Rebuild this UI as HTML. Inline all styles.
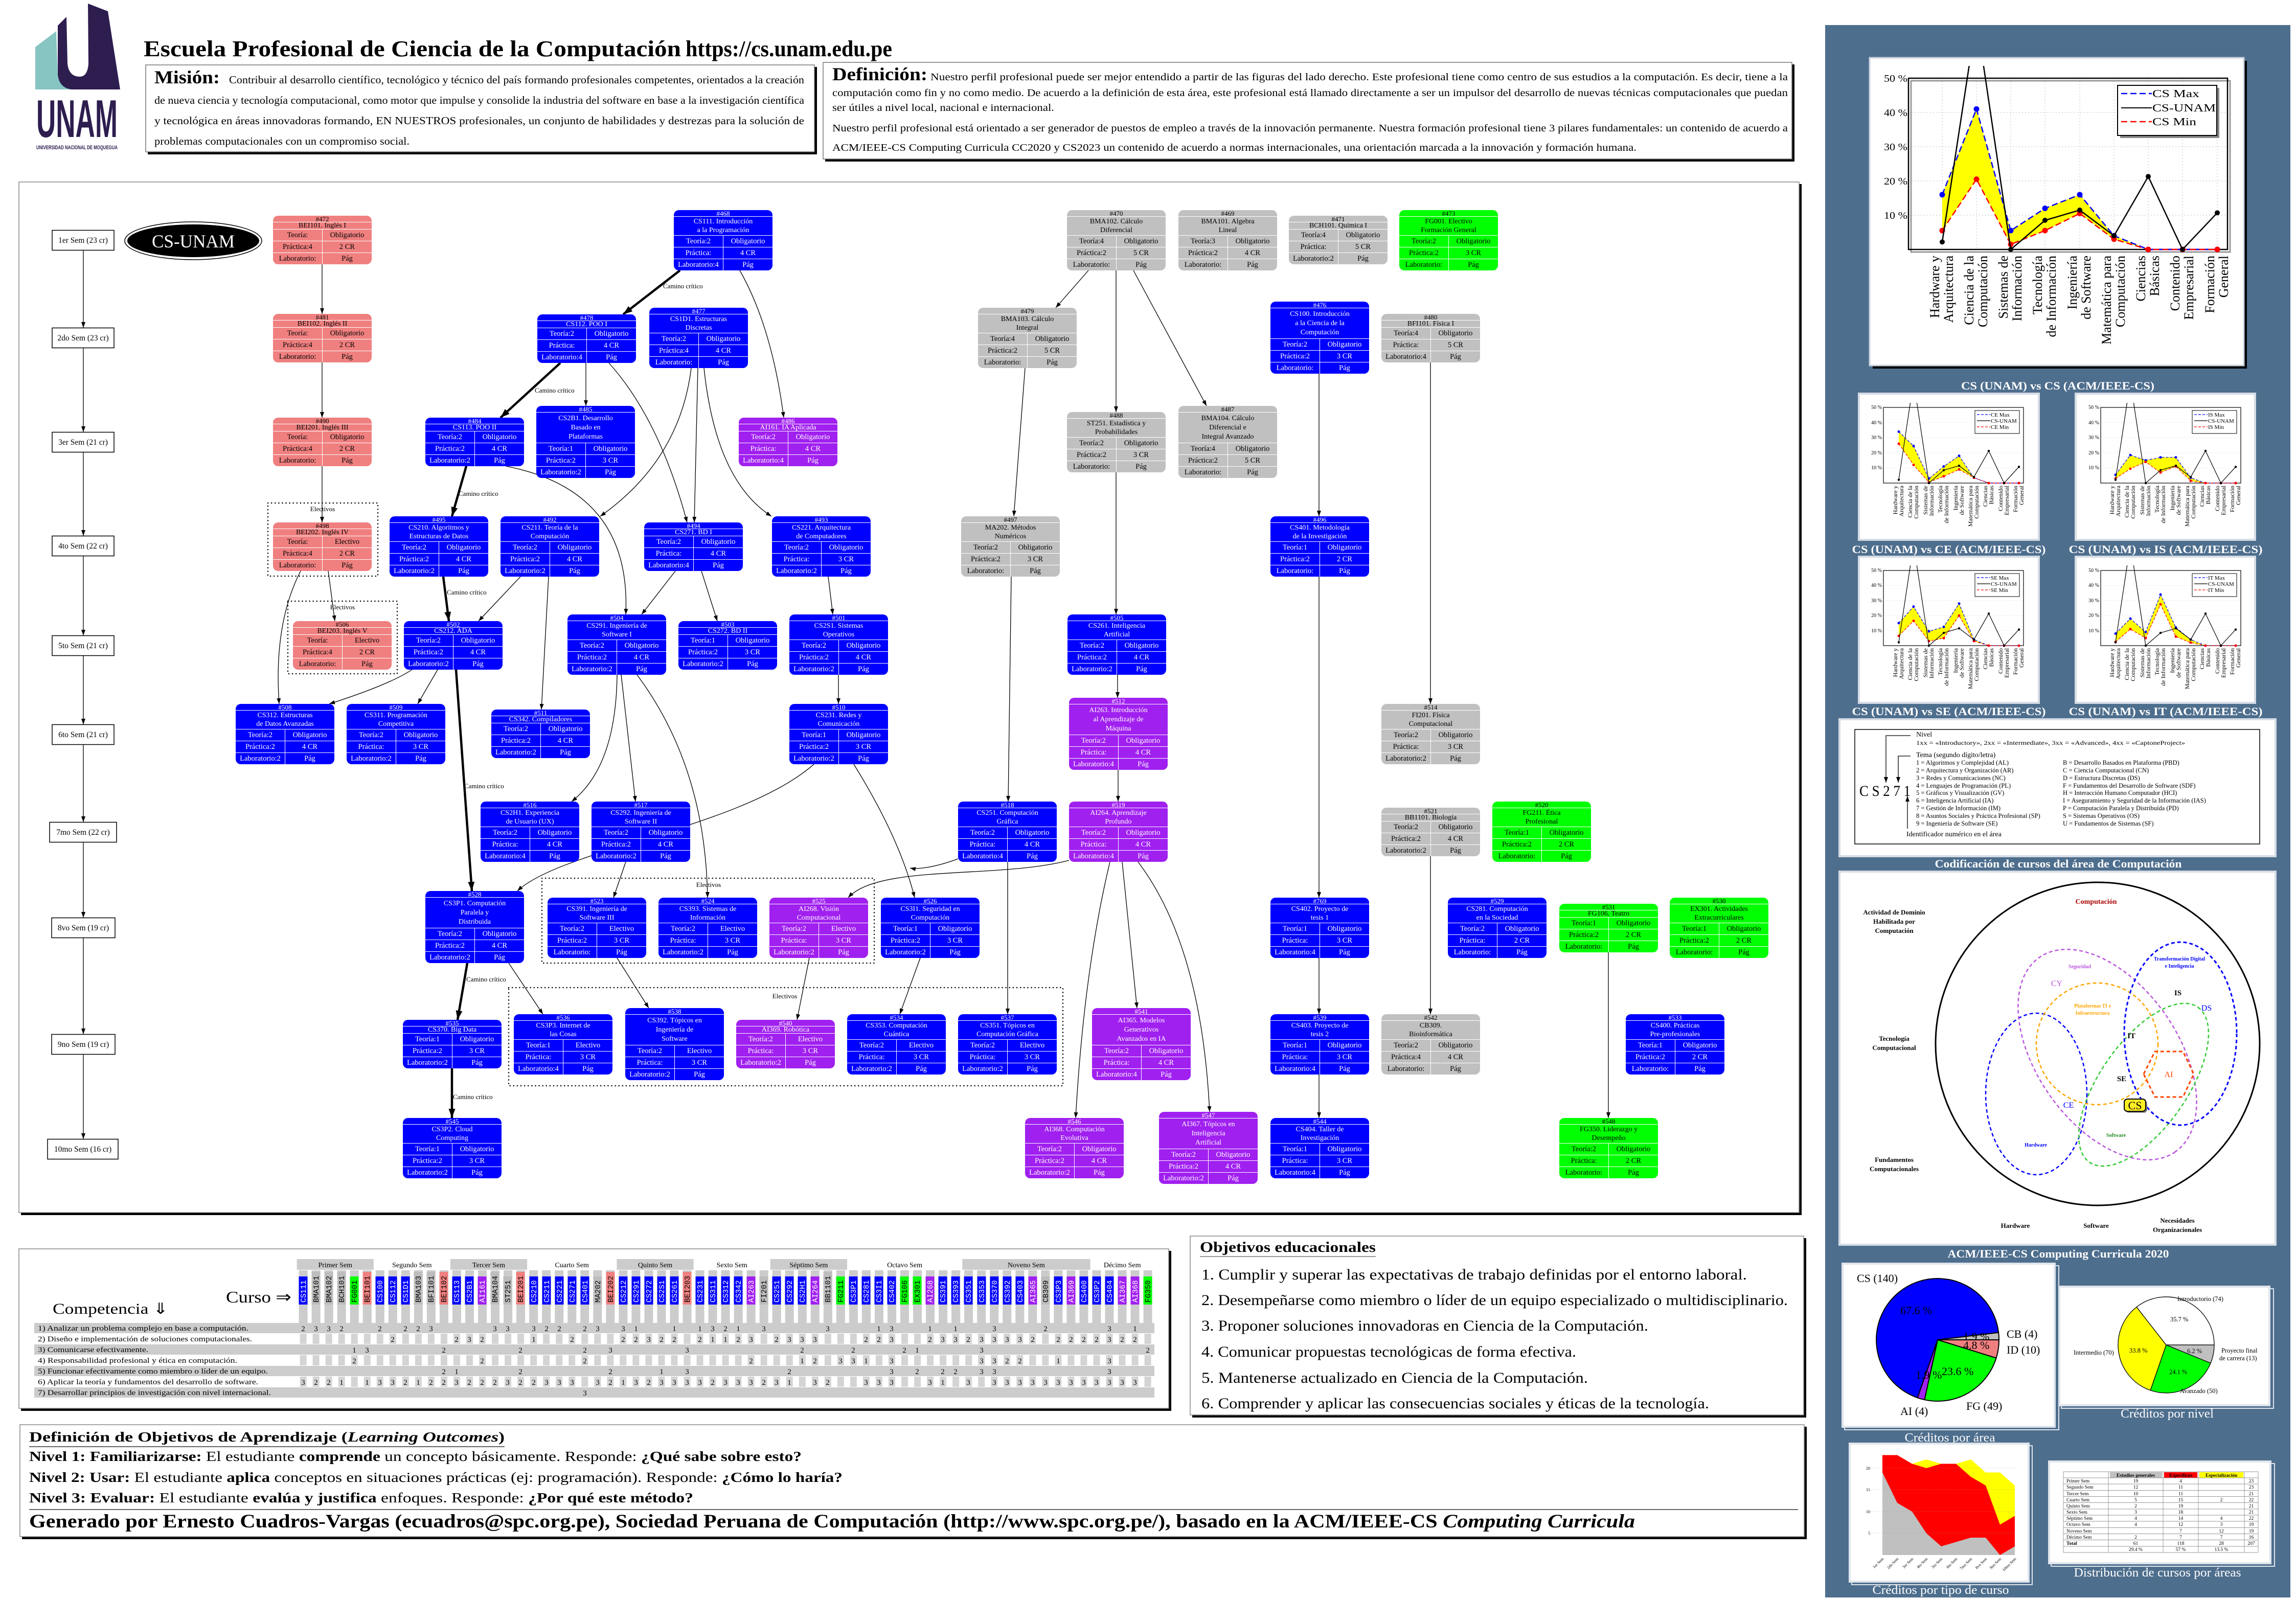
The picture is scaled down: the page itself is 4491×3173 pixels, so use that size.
<!DOCTYPE html>
<html><head><meta charset="utf-8">
<style>
html,body{margin:0;padding:0;background:#fff;}
body{width:4491px;height:3173px;position:relative;overflow:hidden;font-family:"Liberation Serif",serif;}
svg.main{position:absolute;left:0;top:0;}
.c{position:absolute;width:193px;border-radius:10px;overflow:hidden;background:#0000ff;color:#fff;text-align:center;font-family:"Liberation Serif",serif;}
.c.k{background:#f08080;color:#000}
.c.g{background:#c0c0c0;color:#000}
.c.v{background:#00ff00;color:#000}
.c.p{background:#a020f0;color:#fff}
.c .i{height:12px;line-height:13px;font-size:13px;border-bottom:1px solid #fff;}
.c .t{display:flex;align-items:center;justify-content:center;line-height:16px;font-size:14px;overflow:hidden}
.c .r{display:flex;height:22px;border-top:1px solid #fff;line-height:22px;font-size:14.5px}
.c .r span{flex:1;white-space:nowrap}
.c .r span+span{border-left:1px solid #fff}
.h1{height:95px}.h1 .t{height:13px}
.h2{height:118px}.h2 .t{height:36px;line-height:17px}
.h3{height:141px}.h3 .t{height:59px;line-height:18px}
</style></head><body>
<svg class="main" width="4491" height="3173" viewBox="0 0 4491 3173" xmlns="http://www.w3.org/2000/svg" font-family="Liberation Serif, serif">
<defs>
<marker id="ar" viewBox="0 0 10 10" refX="10" refY="5" markerWidth="11" markerHeight="8" markerUnits="userSpaceOnUse" orient="auto" preserveAspectRatio="none"><path d="M0,0L10,5L0,10z" fill="#000"/></marker>
<marker id="ac" viewBox="0 0 10 10" refX="10" refY="5" markerWidth="18" markerHeight="13" markerUnits="userSpaceOnUse" orient="auto" preserveAspectRatio="none"><path d="M0,0L10,5L0,10z" fill="#000"/></marker>
<marker id="db" viewBox="0 0 10 10" refX="5" refY="5" markerWidth="11" markerHeight="11" markerUnits="userSpaceOnUse"><circle cx="5" cy="5" r="5" fill="#0000ff"/></marker>
<marker id="dr" viewBox="0 0 10 10" refX="5" refY="5" markerWidth="11" markerHeight="11" markerUnits="userSpaceOnUse"><circle cx="5" cy="5" r="5" fill="#ff0000"/></marker>
<marker id="dk" viewBox="0 0 10 10" refX="5" refY="5" markerWidth="10" markerHeight="10" markerUnits="userSpaceOnUse"><circle cx="5" cy="5" r="5" fill="#000"/></marker>
<marker id="sb" viewBox="0 0 10 10" refX="5" refY="5" markerWidth="5" markerHeight="5" markerUnits="userSpaceOnUse"><circle cx="5" cy="5" r="5" fill="#0000ff"/></marker>
<marker id="sr" viewBox="0 0 10 10" refX="5" refY="5" markerWidth="5" markerHeight="5" markerUnits="userSpaceOnUse"><circle cx="5" cy="5" r="5" fill="#ff0000"/></marker>
<marker id="sk" viewBox="0 0 10 10" refX="5" refY="5" markerWidth="4.5" markerHeight="4.5" markerUnits="userSpaceOnUse"><circle cx="5" cy="5" r="5" fill="#000"/></marker>
<clipPath id="cb"><rect x="3660" y="129" width="730" height="590"/></clipPath>
<clipPath id="c1"><rect x="3640" y="788" width="345" height="265"/></clipPath>
<clipPath id="c2"><rect x="4064" y="788" width="345" height="265"/></clipPath>
<clipPath id="c3"><rect x="3640" y="1106" width="345" height="265"/></clipPath>
<clipPath id="c4"><rect x="4064" y="1106" width="345" height="265"/></clipPath>
<pattern id="cs" patternUnits="userSpaceOnUse" x="580.6" y="0" width="25.03" height="20"><rect x="4" y="0" width="17" height="20" fill="#cccccc"/></pattern>
<pattern id="cw" patternUnits="userSpaceOnUse" x="580.6" y="0" width="25.03" height="20"><rect x="6" y="0" width="13" height="20" fill="#d4d4d4"/></pattern>
</defs>

<!-- LOGO -->
<path d="M69,175 L69,92 L110,61 L113,148 Q118,170 140,175 Z" fill="#86c5c2"/>
<path d="M113,50 L130,33 L132,125 Q135,150 156,150 Q171,150 173,125 L172,7 L211,22 L235,175 L140,175 Q116,172 113,146 Z" fill="#2e1d4f"/>
<text x="71" y="268" font-family="Liberation Sans, sans-serif" font-weight="bold" font-size="104" fill="#2e1d4f" textLength="159" lengthAdjust="spacingAndGlyphs">UNAM</text>
<text x="71" y="292" font-family="Liberation Sans, sans-serif" font-weight="bold" font-size="11" fill="#2e1d4f" textLength="159" lengthAdjust="spacingAndGlyphs">UNIVERSIDAD NACIONAL DE MOQUEGUA</text>

<!-- TITLE -->
<text x="281" y="110" font-size="44" font-weight="bold" textLength="1051" lengthAdjust="spacingAndGlyphs">Escuela Profesional de Ciencia de la Computación</text>
<text x="1341" y="110" font-size="44" font-weight="bold" textLength="404" lengthAdjust="spacingAndGlyphs">https://cs.unam.edu.pe</text>

<!-- MISION -->
<rect x="289" y="131" width="1309" height="171" fill="#000"/>
<rect x="285" y="127" width="1308" height="170" fill="#fff" stroke="#777" stroke-width="1.5"/>
<text x="302" y="163" font-size="36" font-weight="bold" textLength="128" lengthAdjust="spacingAndGlyphs">Misión:</text>
<g font-size="21" lengthAdjust="spacingAndGlyphs">
<text x="448" y="163" textLength="1125" lengthAdjust="spacingAndGlyphs">Contribuir al desarrollo científico, tecnológico y técnico del país formando profesionales competentes, orientados a la creación</text>
<text x="302" y="203" textLength="1271" lengthAdjust="spacingAndGlyphs">de nueva ciencia y tecnología computacional, como motor que impulse y consolide la industria del software en base a la investigación científica</text>
<text x="302" y="243" textLength="1271" lengthAdjust="spacingAndGlyphs">y tecnológica en áreas innovadoras formando, EN NUESTROS profesionales, un conjunto de habilidades y destrezas para la solución de</text>
<text x="302" y="283" textLength="499" lengthAdjust="spacingAndGlyphs">problemas computacionales con un compromiso social.</text>
</g>

<!-- DEFINICION -->
<rect x="1614" y="126" width="1896" height="190" fill="#000"/>
<rect x="1610" y="122" width="1895" height="189" fill="#fff" stroke="#777" stroke-width="1.5"/>
<text x="1628" y="157" font-size="36" font-weight="bold" textLength="186" lengthAdjust="spacingAndGlyphs">Definición:</text>
<g font-size="19.5">
<text x="1820" y="157" textLength="1677" lengthAdjust="spacingAndGlyphs">Nuestro perfil profesional puede ser mejor entendido a partir de las figuras del lado derecho. Este profesional tiene como centro de sus estudios a la computación. Es decir, tiene a la</text>
<text x="1628" y="188" textLength="1869" lengthAdjust="spacingAndGlyphs">computación como fin y no como medio. De acuerdo a la definición de esta área, este profesional está llamado directamente a ser un impulsor del desarrollo de nuevas técnicas computacionales que puedan</text>
<text x="1628" y="217" textLength="434" lengthAdjust="spacingAndGlyphs">ser útiles a nivel local, nacional e internacional.</text>
<text x="1628" y="257" textLength="1869" lengthAdjust="spacingAndGlyphs">Nuestro perfil profesional está orientado a ser generador de puestos de empleo a través de la innovación permanente. Nuestra formación profesional tiene 3 pilares fundamentales: un contenido de acuerdo a</text>
<text x="1628" y="295" textLength="1573" lengthAdjust="spacingAndGlyphs">ACM/IEEE-CS Computing Curricula CC2020 y CS2023 un contenido de acuerdo a normas internacionales, una orientación marcada a la innovación y formación humana.</text>
</g>

<!-- GRAPH FRAME -->
<rect x="41" y="2372" width="3483" height="5" fill="#000"/>
<rect x="3519" y="360" width="5" height="2017" fill="#000"/>
<rect x="37" y="356" width="3482" height="2016" fill="none" stroke="#888" stroke-width="1.5"/>

<!-- Semesters -->
<g fill="#fff" stroke="#000" stroke-width="1.5">
<rect x="102" y="450.5" width="121" height="39"/>
<rect x="102" y="641.5" width="121" height="39"/>
<rect x="102" y="845.5" width="121" height="39"/>
<rect x="102" y="1048.5" width="121" height="39"/>
<rect x="102" y="1243.5" width="121" height="39"/>
<rect x="102" y="1417.5" width="121" height="39"/>
<rect x="97" y="1608.5" width="131" height="39"/>
<rect x="101" y="1795.5" width="124" height="39"/>
<rect x="101" y="2023.5" width="124" height="39"/>
<rect x="93" y="2228.5" width="138" height="39"/>
</g>
<g font-size="15.5" text-anchor="middle">
<text x="162.5" y="475">1er Sem (23 cr)</text>
<text x="162.5" y="666">2do Sem (23 cr)</text>
<text x="162.5" y="870">3er Sem (21 cr)</text>
<text x="162.5" y="1073">4to Sem (22 cr)</text>
<text x="162.5" y="1268">5to Sem (21 cr)</text>
<text x="162.5" y="1442">6to Sem (21 cr)</text>
<text x="162.5" y="1633">7mo Sem (22 cr)</text>
<text x="163" y="1820">8vo Sem (19 cr)</text>
<text x="163" y="2048">9no Sem (19 cr)</text>
<text x="162" y="2253">10mo Sem (16 cr)</text>
</g>

<!-- CS-UNAM -->
<ellipse cx="378" cy="471" rx="134" ry="37" fill="#fff" stroke="#000" stroke-width="1.5"/>
<ellipse cx="378" cy="471" rx="129" ry="32" fill="#000"/>
<text x="378" y="484" font-size="36" fill="#fff" text-anchor="middle" textLength="162" lengthAdjust="spacingAndGlyphs">CS-UNAM</text>

<!-- Electivos boxes -->
<g fill="none" stroke="#000" stroke-width="2.5" stroke-dasharray="0.1,7" stroke-linecap="round">
<rect x="524" y="984" width="215" height="143"/>
<rect x="563" y="1176" width="214" height="142"/>
<rect x="1060" y="1718" width="650" height="166"/>
<rect x="995" y="1932" width="1084" height="192"/>
</g>
<g font-size="13" text-anchor="middle">
<text x="631" y="1000">Electivos</text>
<text x="670" y="1192">Electivos</text>
<text x="1386" y="1735">Electivos</text>
<text x="1535" y="1953">Electivos</text>
</g>

<!-- EDGES -->
<g fill="none" stroke="#000" stroke-width="1.3" marker-end="url(#ar)">
<path d="M163,490V641"/><path d="M163,681V845"/><path d="M163,885V1048"/><path d="M163,1088V1243"/><path d="M163,1283V1417"/><path d="M163,1457V1608"/><path d="M163,1648V1795"/><path d="M163,1835V2023"/><path d="M163,2063V2228"/>
<path d="M630,517V614"/>
<path d="M630,709V817"/>
<path d="M630,912V1022"/>
<path d="M642,1117L655,1215"/>
<path d="M588,1117Q535,1220 546,1377"/>
<path d="M1447,529Q1510,640 1533,817"/>
<path d="M1146,710V794"/>
<path d="M1191,710Q1290,820 1344,1022"/>
<path d="M1365,720L1358,1022"/>
<path d="M1352,720Q1330,900 1174,1010"/>
<path d="M1377,720Q1400,940 1509,1010"/>
<path d="M990,912Q1235,960 1224,1202"/>
<path d="M1018,1128L936,1215"/>
<path d="M1073,1128L1059,1388"/>
<path d="M1321,1117L1255,1202"/>
<path d="M1372,1117L1403,1215"/>
<path d="M1620,1128L1629,1202"/>
<path d="M806,1310Q760,1340 644,1377"/>
<path d="M856,1310L817,1377"/>
<path d="M1207,1320Q1205,1500 1118,1568"/>
<path d="M1215,1320L1243,1568"/>
<path d="M1246,1320Q1380,1500 1384,1756"/>
<path d="M1640,1320V1377"/>
<path d="M1592,1495C1450,1620 1100,1660 1012,1743"/>
<path d="M1670,1495Q1760,1640 1789,1756"/>
<path d="M1224,1686L1200,1756"/>
<path d="M995,1884L1062,1984"/>
<path d="M1207,1874L1269,1972"/>
<path d="M1583,1874L1559,1995"/>
<path d="M2091,1683C1950,1720 1720,1690 1659,1756"/>
<path d="M1874,1680C1820,1700 1790,1700 1780,1698"/>
<path d="M1800,1874L1760,1984"/>
<path d="M2129,529L2065,602"/>
<path d="M2183,529V806"/>
<path d="M2217,529L2360,794"/>
<path d="M2005,720L1983,1010"/>
<path d="M2183,924V1202"/>
<path d="M1978,1128L1972,1568"/>
<path d="M2186,1320V1365"/>
<path d="M2187,1506V1568"/>
<path d="M2580,731V1010"/>
<path d="M2580,1128V1756"/>
<path d="M2580,1874V1984"/>
<path d="M2580,2102V2187"/>
<path d="M2798,709V1377"/>
<path d="M2798,1675V1984"/>
<path d="M3146,1863V2187"/>
<path d="M1971,1686V1984"/>
<path d="M2195,1686L2224,1972"/>
<path d="M2171,1686Q2120,1900 2104,2187"/>
<path d="M2226,1686Q2350,1850 2366,2175"/>
</g>
<g fill="none" stroke="#000" stroke-width="4.5" marker-end="url(#ac)">
<path d="M1330,529L1219,615"/>
<path d="M1096,710L979,817"/>
<path d="M912,912L884,1010"/>
<path d="M867,1128L878,1215"/>
<path d="M892,1310L923,1743"/>
<path d="M914,1884L895,1995"/>
<path d="M884,2090V2187"/>
</g>
<g font-size="13">
<text x="1297" y="564">Camino crítico</text>
<text x="1046" y="768">Camino crítico</text>
<text x="897" y="970">Camino crítico</text>
<text x="874" y="1163">Camino crítico</text>
<text x="908" y="1542">Camino crítico</text>
<text x="912" y="1920">Camino crítico</text>
<text x="886" y="2150">Camino crítico</text>
</g>

<!-- COMPETENCY TABLE -->
<rect x="41" y="2447" width="2250" height="313" fill="#000"/>
<rect x="37" y="2443" width="2249" height="312" fill="#fff" stroke="#888" stroke-width="1.5"/>
<g fill="#cccccc">
<rect x="580.6" y="2463" width="150.2" height="21"/>
<rect x="880.9" y="2463" width="150.2" height="21"/>
<rect x="1206.4" y="2463" width="150.2" height="21"/>
<rect x="1506.8" y="2463" width="150.2" height="21"/>
<rect x="1882.3" y="2463" width="250.3" height="21"/>
</g>
<g font-size="14" text-anchor="middle">
<text x="655.7" y="2479">Primer Sem</text>
<text x="805.8" y="2479">Segundo Sem</text>
<text x="956" y="2479">Tercer Sem</text>
<text x="1118.7" y="2479">Cuarto Sem</text>
<text x="1281.5" y="2479">Quinto Sem</text>
<text x="1431.7" y="2479">Sexto Sem</text>
<text x="1581.9" y="2479">Séptimo Sem</text>
<text x="1769.6" y="2479">Octavo Sem</text>
<text x="2007.4" y="2479">Noveno Sem</text>
<text x="2195.2" y="2479">Décimo Sem</text>
</g>
<rect x="580.6" y="2485" width="1677" height="103" fill="url(#cs)"/>
<g fill="#cccccc">
<rect x="67" y="2588" width="2191" height="20"/>
<rect x="67" y="2630" width="2191" height="20"/>
<rect x="67" y="2672" width="2191" height="20"/>
<rect x="67" y="2714" width="2191" height="20"/>
</g>
<rect x="580.6" y="2609" width="1677" height="20" fill="url(#cw)"/>
<rect x="580.6" y="2651" width="1677" height="20" fill="url(#cw)"/>
<rect x="580.6" y="2693" width="1677" height="20" fill="url(#cw)"/>
<path fill="#0000ff" d="M584.5,2497h17v55h-17zM734.5,2497h17v55h-17zM759.5,2497h17v55h-17zM784.5,2497h17v55h-17zM884.5,2497h17v55h-17zM909.5,2497h17v55h-17zM1035.5,2497h17v55h-17zM1060.5,2497h17v55h-17zM1085.5,2497h17v55h-17zM1110.5,2497h17v55h-17zM1135.5,2497h17v55h-17zM1210.5,2497h17v55h-17zM1235.5,2497h17v55h-17zM1260.5,2497h17v55h-17zM1285.5,2497h17v55h-17zM1310.5,2497h17v55h-17zM1360.5,2497h17v55h-17zM1385.5,2497h17v55h-17zM1410.5,2497h17v55h-17zM1435.5,2497h17v55h-17zM1510.5,2497h17v55h-17zM1535.5,2497h17v55h-17zM1560.5,2497h17v55h-17zM1660.5,2497h17v55h-17zM1685.5,2497h17v55h-17zM1710.5,2497h17v55h-17zM1735.5,2497h17v55h-17zM1835.5,2497h17v55h-17zM1860.5,2497h17v55h-17zM1885.5,2497h17v55h-17zM1911.5,2497h17v55h-17zM1936.5,2497h17v55h-17zM1961.5,2497h17v55h-17zM1986.5,2497h17v55h-17zM2061.5,2497h17v55h-17zM2111.5,2497h17v55h-17zM2136.5,2497h17v55h-17zM2161.5,2497h17v55h-17z"/>
<path fill="#bdbdbd" d="M609.5,2488h17v64h-17zM634.5,2488h17v64h-17zM659.5,2488h17v64h-17zM809.5,2488h17v64h-17zM834.5,2488h17v64h-17zM959.5,2488h17v64h-17zM984.5,2497h17v55h-17zM1160.5,2497h17v55h-17zM1485.5,2497h17v55h-17zM1610.5,2488h17v64h-17zM2036.5,2497h17v55h-17z"/>
<path fill="#00ff00" d="M684.5,2497h17v55h-17zM1635.5,2497h17v55h-17zM1760.5,2497h17v55h-17zM1785.5,2497h17v55h-17zM2236.5,2497h17v55h-17z"/>
<path fill="#f08080" d="M709.5,2488h17v64h-17zM859.5,2488h17v64h-17zM1009.5,2488h17v64h-17zM1185.5,2488h17v64h-17zM1335.5,2488h17v64h-17z"/>
<path fill="#a020f0" d="M934.5,2497h17v55h-17zM1460.5,2497h17v55h-17zM1585.5,2497h17v55h-17zM1810.5,2497h17v55h-17zM2011.5,2497h17v55h-17zM2086.5,2497h17v55h-17zM2186.5,2497h17v55h-17zM2211.5,2497h17v55h-17z"/>
<g font-family="Liberation Mono, monospace" font-size="14.5" fill="#fff">
<text transform="translate(598,2548) rotate(-90)">CS111</text>
<text transform="translate(748,2548) rotate(-90)">CS100</text>
<text transform="translate(773,2548) rotate(-90)">CS112</text>
<text transform="translate(798,2548) rotate(-90)">CS1D1</text>
<text transform="translate(898,2548) rotate(-90)">CS113</text>
<text transform="translate(923,2548) rotate(-90)">CS2B1</text>
<text transform="translate(948,2548) rotate(-90)">AI161</text>
<text transform="translate(1049,2548) rotate(-90)">CS210</text>
<text transform="translate(1074,2548) rotate(-90)">CS211</text>
<text transform="translate(1099,2548) rotate(-90)">CS221</text>
<text transform="translate(1124,2548) rotate(-90)">CS271</text>
<text transform="translate(1149,2548) rotate(-90)">CS401</text>
<text transform="translate(1224,2548) rotate(-90)">CS212</text>
<text transform="translate(1249,2548) rotate(-90)">CS291</text>
<text transform="translate(1274,2548) rotate(-90)">CS272</text>
<text transform="translate(1299,2548) rotate(-90)">CS2S1</text>
<text transform="translate(1324,2548) rotate(-90)">CS261</text>
<text transform="translate(1374,2548) rotate(-90)">CS231</text>
<text transform="translate(1399,2548) rotate(-90)">CS311</text>
<text transform="translate(1424,2548) rotate(-90)">CS312</text>
<text transform="translate(1449,2548) rotate(-90)">CS342</text>
<text transform="translate(1474,2548) rotate(-90)">AI263</text>
<text transform="translate(1524,2548) rotate(-90)">CS251</text>
<text transform="translate(1549,2548) rotate(-90)">CS292</text>
<text transform="translate(1574,2548) rotate(-90)">CS2H1</text>
<text transform="translate(1599,2548) rotate(-90)">AI264</text>
<text transform="translate(1674,2548) rotate(-90)">CS3P1</text>
<text transform="translate(1699,2548) rotate(-90)">CS281</text>
<text transform="translate(1724,2548) rotate(-90)">CS3I1</text>
<text transform="translate(1749,2548) rotate(-90)">CS402</text>
<text transform="translate(1824,2548) rotate(-90)">AI268</text>
<text transform="translate(1849,2548) rotate(-90)">CS391</text>
<text transform="translate(1874,2548) rotate(-90)">CS393</text>
<text transform="translate(1899,2548) rotate(-90)">CS351</text>
<text transform="translate(1925,2548) rotate(-90)">CS353</text>
<text transform="translate(1950,2548) rotate(-90)">CS370</text>
<text transform="translate(1975,2548) rotate(-90)">CS392</text>
<text transform="translate(2000,2548) rotate(-90)">CS403</text>
<text transform="translate(2025,2548) rotate(-90)">AI365</text>
<text transform="translate(2075,2548) rotate(-90)">CS3P3</text>
<text transform="translate(2100,2548) rotate(-90)">AI369</text>
<text transform="translate(2125,2548) rotate(-90)">CS400</text>
<text transform="translate(2150,2548) rotate(-90)">CS3P2</text>
<text transform="translate(2175,2548) rotate(-90)">CS404</text>
<text transform="translate(2200,2548) rotate(-90)">AI367</text>
<text transform="translate(2225,2548) rotate(-90)">AI368</text>
</g>
<g font-family="Liberation Mono, monospace" font-size="14.5" fill="#000">
<text transform="translate(623,2548) rotate(-90)">BMA101</text>
<text transform="translate(648,2548) rotate(-90)">BMA102</text>
<text transform="translate(673,2548) rotate(-90)">BCH101</text>
<text transform="translate(698,2548) rotate(-90)">FG001</text>
<text transform="translate(723,2548) rotate(-90)">BEI101</text>
<text transform="translate(823,2548) rotate(-90)">BMA103</text>
<text transform="translate(848,2548) rotate(-90)">BFI101</text>
<text transform="translate(873,2548) rotate(-90)">BEI102</text>
<text transform="translate(973,2548) rotate(-90)">BMA104</text>
<text transform="translate(998,2548) rotate(-90)">ST251</text>
<text transform="translate(1023,2548) rotate(-90)">BEI201</text>
<text transform="translate(1174,2548) rotate(-90)">MA202</text>
<text transform="translate(1199,2548) rotate(-90)">BEI202</text>
<text transform="translate(1349,2548) rotate(-90)">BEI203</text>
<text transform="translate(1499,2548) rotate(-90)">FI201</text>
<text transform="translate(1624,2548) rotate(-90)">BB1101</text>
<text transform="translate(1649,2548) rotate(-90)">FG211</text>
<text transform="translate(1774,2548) rotate(-90)">FG106</text>
<text transform="translate(1799,2548) rotate(-90)">EX301</text>
<text transform="translate(2050,2548) rotate(-90)">CB309</text>
<text transform="translate(2250,2548) rotate(-90)">FG350</text>
</g>
<text x="442" y="2548" font-size="32" textLength="128" lengthAdjust="spacingAndGlyphs">Curso ⇒</text>
<text x="103" y="2570" font-size="30" textLength="226" lengthAdjust="spacingAndGlyphs">Competencia ⇓</text>
<g font-size="15">
<text x="74" y="2603" textLength="412" lengthAdjust="spacingAndGlyphs">1) Analizar un problema complejo en base a computación.</text>
<text x="74" y="2624" textLength="419" lengthAdjust="spacingAndGlyphs">2) Diseño e implementación de soluciones computacionales.</text>
<text x="74" y="2645" textLength="216" lengthAdjust="spacingAndGlyphs">3) Comunicarse efectivamente.</text>
<text x="74" y="2666" textLength="390" lengthAdjust="spacingAndGlyphs">4) Responsabilidad profesional y ética en computación.</text>
<text x="74" y="2687" textLength="450" lengthAdjust="spacingAndGlyphs">5) Funcionar efectivamente como miembro o líder de un equipo.</text>
<text x="74" y="2708" textLength="431" lengthAdjust="spacingAndGlyphs">6) Aplicar la teoría y fundamentos del desarrollo de software.</text>
<text x="74" y="2729" textLength="456" lengthAdjust="spacingAndGlyphs">7) Desarrollar principios de investigación con nivel internacional.</text>
</g>
<g font-size="15" text-anchor="middle">
<text y="2604" x="593 618 643 668 743 793 818 843 968 993 1044 1069 1094 1144 1169 1219 1244 1319 1369 1394 1419 1444 1494 1619 1719 1744 1819 1869 1945 2045 2170 2220">23322223333222331113213313113231</text>
<text y="2625" x="768 893 918 943 1044 1119 1219 1244 1269 1294 1319 1369 1394 1419 1444 1469 1519 1544 1569 1594 1694 1719 1744 1819 1844 1869 1894 1920 1945 1970 1995 2020 2070 2095 2120 2145 2170 2195 2220">223212223222112323332232332333322222322</text>
<text y="2646" x="693 718 868 1018 1144 1194 1344 1569 1669 1769 1794 1920 2245">1322233222132</text>
<text y="2667" x="693 943 1144 1469 1569 1594 1644 1669 1694 1744 1920 1945 1970 1995 2070 2170">2222123313332213</text>
<text y="2688" x="868 893 1018 1194 1294 1344 1544 1744 1794 1844 1869 1920 1945 2170">21221323222333</text>
<text y="2709" x="593 618 643 668 718 743 768 793 818 843 868 893 918 943 968 993 1018 1044 1069 1094 1119 1169 1194 1219 1244 1269 1294 1319 1344 1369 1394 1419 1444 1469 1494 1519 1544 1594 1619 1694 1719 1744 1819 1844 1894 1945 1970 1995 2020 2045 2070 2095 2120 2145 2170 2195 2220">322113321223222322333321323333233323132333313333333333333</text>
<text y="2730" x="1144">3</text>
</g>

<!-- OBJETIVOS -->
<rect x="2332" y="2422" width="1201" height="351" fill="#000"/>
<rect x="2328" y="2418" width="1200" height="350" fill="#fff" stroke="#888" stroke-width="1.5"/>
<text x="2347" y="2449" font-size="28" font-weight="bold" textLength="344" lengthAdjust="spacingAndGlyphs">Objetivos educacionales</text>
<line x1="2347" y1="2458" x2="2691" y2="2458" stroke="#999" stroke-width="2"/>
<g font-size="30">
<text x="2350" y="2503" textLength="1067" lengthAdjust="spacingAndGlyphs">1. Cumplir y superar las expectativas de trabajo definidas por el entorno laboral.</text>
<text x="2350" y="2553" textLength="1147" lengthAdjust="spacingAndGlyphs">2. Desempeñarse como miembro o líder de un equipo especializado o multidisciplinario.</text>
<text x="2350" y="2603" textLength="874" lengthAdjust="spacingAndGlyphs">3. Proponer soluciones innovadoras en Ciencia de la Computación.</text>
<text x="2350" y="2654" textLength="733" lengthAdjust="spacingAndGlyphs">4. Comunicar propuestas tecnológicas de forma efectiva.</text>
<text x="2350" y="2705" textLength="756" lengthAdjust="spacingAndGlyphs">5. Mantenerse actualizado en Ciencia de la Computación.</text>
<text x="2350" y="2755" textLength="993" lengthAdjust="spacingAndGlyphs">6. Comprender y aplicar las consecuencias sociales y éticas de la tecnología.</text>
</g>

<!-- LEARNING OUTCOMES -->
<rect x="43" y="2791" width="3491" height="220" fill="#000"/>
<rect x="39" y="2787" width="3490" height="219" fill="#fff" stroke="#888" stroke-width="1.5"/>
<text x="57" y="2820" font-size="27" font-weight="bold" textLength="930" lengthAdjust="spacingAndGlyphs">Definición de Objetivos de Aprendizaje (<tspan font-style="italic">Learning Outcomes</tspan>)</text>
<line x1="57" y1="2830" x2="987" y2="2830" stroke="#666" stroke-width="2"/>
<g font-size="27">
<text x="57" y="2858" textLength="1511" lengthAdjust="spacingAndGlyphs"><tspan font-weight="bold">Nivel 1: Familiarizarse:</tspan> El estudiante <tspan font-weight="bold">comprende</tspan> un concepto básicamente. Responde: <tspan font-weight="bold">¿Qué sabe sobre esto?</tspan></text>
<text x="57" y="2899" textLength="1591" lengthAdjust="spacingAndGlyphs"><tspan font-weight="bold">Nivel 2: Usar:</tspan> El estudiante <tspan font-weight="bold">aplica</tspan> conceptos en situaciones prácticas (ej: programación). Responde: <tspan font-weight="bold">¿Cómo lo haría?</tspan></text>
<text x="57" y="2939" textLength="1299" lengthAdjust="spacingAndGlyphs"><tspan font-weight="bold">Nivel 3: Evaluar:</tspan> El estudiante <tspan font-weight="bold">evalúa y justifica</tspan> enfoques. Responde: <tspan font-weight="bold">¿Por qué este método?</tspan></text>
</g>
<line x1="57" y1="2953" x2="3517" y2="2953" stroke="#666" stroke-width="2"/>
<text x="57" y="2988" font-size="37" font-weight="bold" textLength="3141" lengthAdjust="spacingAndGlyphs">Generado por Ernesto Cuadros-Vargas (ecuadros@spc.org.pe), Sociedad Peruana de Computación (http://www.spc.org.pe/), basado en la ACM/IEEE-CS <tspan font-style="italic">Computing Curricula</tspan></text>

<!-- SIDEBAR -->
<rect x="3570" y="49" width="910" height="3076" fill="#4e6e8d"/>

<!-- Big chart -->
<rect x="3663" y="119" width="732" height="602" fill="#000"/>
<rect x="3657" y="113" width="732" height="602" fill="#fff" stroke="#c9d3de" stroke-width="3"/>
<g stroke="#bbb" stroke-width="1" stroke-dasharray="2,4">
<path d="M3733,421H4357M3733,354H4357M3733,287H4357M3733,220H4357M3799,153V488M3866,153V488M3933,153V488M4000,153V488M4068,153V488M4135,153V488M4202,153V488M4269,153V488M4337,153V488"/>
</g>
<rect x="3738" y="158" width="624" height="335" fill="none" stroke="#999" stroke-width="3"/>
<rect x="3733" y="153" width="624" height="335" fill="none" stroke="#000" stroke-width="2.5"/>
<polygon fill="#ffff00" points="3799,380.8 3866,213.3 3933,451.1 4000,407.6 4068,380.8 4135,461.2 4202,488 4269,488 4337,488 4269,488 4202,488 4135,467.9 4068,417.6 4000,451.1 3933,478 3866,350.6 3799,451.1"/>
<polyline fill="none" stroke="#0000ff" stroke-width="2.5" stroke-dasharray="12,6" marker-start="url(#db)" marker-mid="url(#db)" marker-end="url(#db)" points="3799,380.8 3866,213.3 3933,451.1 4000,407.6 4068,380.8 4135,461.2 4202,488 4269,488 4337,488"/>
<polyline fill="none" stroke="#ff0000" stroke-width="2.5" stroke-dasharray="12,6" marker-start="url(#dr)" marker-mid="url(#dr)" marker-end="url(#dr)" points="3799,451.1 3866,350.6 3933,478 4000,451.1 4068,417.6 4135,467.9 4202,488 4269,488 4337,488"/>
<polyline clip-path="url(#cb)" fill="none" stroke="#000" stroke-width="2.5" marker-start="url(#dk)" marker-mid="url(#dk)" marker-end="url(#dk)" points="3799,473.3 3866,35 3933,488 4000,431 4068,411 4135,461.2 4202,345.3 4269,488 4337,416.3"/>
<g font-size="20" text-anchor="end">
<text x="3731" y="160" textLength="46" lengthAdjust="spacingAndGlyphs">50 %</text>
<text x="3731" y="227" textLength="46" lengthAdjust="spacingAndGlyphs">40 %</text>
<text x="3731" y="294" textLength="46" lengthAdjust="spacingAndGlyphs">30 %</text>
<text x="3731" y="361" textLength="46" lengthAdjust="spacingAndGlyphs">20 %</text>
<text x="3731" y="428" textLength="46" lengthAdjust="spacingAndGlyphs">10 %</text>
</g>
<rect x="4147" y="172" width="194" height="98" fill="#888"/>
<rect x="4142" y="167" width="194" height="98" fill="#fff" stroke="#000" stroke-width="2"/>
<line x1="4149" y1="183" x2="4209" y2="183" stroke="#0000ff" stroke-width="2.5" stroke-dasharray="12,6"/>
<line x1="4149" y1="211" x2="4209" y2="211" stroke="#000" stroke-width="2"/>
<line x1="4149" y1="238" x2="4209" y2="238" stroke="#ff0000" stroke-width="2.5" stroke-dasharray="12,6"/>
<g font-size="21">
<text x="4210" y="190" textLength="92" lengthAdjust="spacingAndGlyphs">CS Max</text>
<text x="4210" y="218" textLength="124" lengthAdjust="spacingAndGlyphs">CS-UNAM</text>
<text x="4210" y="245" textLength="86" lengthAdjust="spacingAndGlyphs">CS Min</text>
</g>
<g font-size="26" text-anchor="end">
<text transform="translate(3793,500) rotate(-90)">Hardware y</text><text transform="translate(3820,500) rotate(-90)">Arquitectura</text>
<text transform="translate(3860,500) rotate(-90)">Ciencia de la</text><text transform="translate(3887,500) rotate(-90)">Computación</text>
<text transform="translate(3927,500) rotate(-90)">Sistemas de</text><text transform="translate(3954,500) rotate(-90)">Información</text>
<text transform="translate(3994,500) rotate(-90)">Tecnología</text><text transform="translate(4021,500) rotate(-90)">de Información</text>
<text transform="translate(4062,500) rotate(-90)">Ingeniería</text><text transform="translate(4089,500) rotate(-90)">de Software</text>
<text transform="translate(4129,500) rotate(-90)">Matemática para</text><text transform="translate(4156,500) rotate(-90)">Computación</text>
<text transform="translate(4196,500) rotate(-90)">Ciencias</text><text transform="translate(4223,500) rotate(-90)">Básicas</text>
<text transform="translate(4263,500) rotate(-90)">Contenido</text><text transform="translate(4290,500) rotate(-90)">Empresarial</text>
<text transform="translate(4331,500) rotate(-90)">Formación</text><text transform="translate(4358,500) rotate(-90)">General</text>
</g>
<g fill="#fff" font-weight="bold" font-size="22" text-anchor="middle">
<text x="4025" y="762" textLength="378" lengthAdjust="spacingAndGlyphs">CS (UNAM) vs CS (ACM/IEEE-CS)</text>
<text x="3812" y="1082" textLength="379" lengthAdjust="spacingAndGlyphs">CS (UNAM) vs CE (ACM/IEEE-CS)</text>
<text x="4236" y="1082" textLength="379" lengthAdjust="spacingAndGlyphs">CS (UNAM) vs IS (ACM/IEEE-CS)</text>
<text x="3812" y="1399" textLength="379" lengthAdjust="spacingAndGlyphs">CS (UNAM) vs SE (ACM/IEEE-CS)</text>
<text x="4236" y="1399" textLength="379" lengthAdjust="spacingAndGlyphs">CS (UNAM) vs IT (ACM/IEEE-CS)</text>
</g>

<!-- Small chart frames -->
<g fill="#fff" stroke="#d5dce5" stroke-width="4">
<rect x="3636" y="770" width="352" height="286"/>
<rect x="4060" y="770" width="351" height="286"/>
<rect x="3636" y="1089" width="352" height="286"/>
<rect x="4060" y="1089" width="351" height="286"/>
</g>
<g stroke="#ccc" stroke-width="0.8" stroke-dasharray="1,3">
<path d="M3684,826.6H3958M3684,856.2H3958M3684,885.8H3958M3684,915.4H3958"/>
<path d="M4109,826.6H4383M4109,856.2H4383M4109,885.8H4383M4109,915.4H4383"/>
<path d="M3684,1145.4H3958M3684,1174.8H3958M3684,1204.2H3958M3684,1233.6H3958"/>
<path d="M4109,1145.4H4383M4109,1174.8H4383M4109,1204.2H4383M4109,1233.6H4383"/>
</g>
<g fill="none" stroke="#000" stroke-width="1.2">
<rect x="3684" y="797" width="274" height="148"/>
<rect x="4109" y="797" width="274" height="148"/>
<rect x="3684" y="1116" width="274" height="147"/>
<rect x="4109" y="1116" width="274" height="147"/>
</g>
<!-- CE -->
<polygon fill="#ffff00" points="3714,844.4 3743,872.5 3773,936.1 3802,912.4 3832,891.7 3861,934.6 3890,945 3920,945 3949,945 3920,945 3890,945 3861,934.6 3832,918.4 3802,931.7 3773,943.5 3743,909.5 3714,868"/>
<polyline fill="none" stroke="#0000ff" stroke-width="1.2" stroke-dasharray="5,3" marker-start="url(#sb)" marker-mid="url(#sb)" marker-end="url(#sb)" points="3714,844.4 3743,872.5 3773,936.1 3802,912.4 3832,891.7 3861,934.6 3890,945 3920,945 3949,945"/>
<polyline fill="none" stroke="#ff0000" stroke-width="1.2" stroke-dasharray="5,3" marker-start="url(#sr)" marker-mid="url(#sr)" marker-end="url(#sr)" points="3714,868 3743,909.5 3773,943.5 3802,931.7 3832,918.4 3861,934.6 3890,945 3920,945 3949,945"/>
<polyline clip-path="url(#c1)" fill="none" stroke="#000" stroke-width="1.2" marker-start="url(#sk)" marker-mid="url(#sk)" marker-end="url(#sk)" points="3714,938.5 3743,745 3773,945 3802,919.8 3832,911 3861,933.2 3890,882 3920,945 3949,913.3"/>
<!-- IS -->
<polygon fill="#ffff00" points="4138,928.7 4167,890.2 4197,900.6 4226,894.7 4256,894.7 4285,934.6 4314,945 4344,945 4373,945 4344,945 4314,945 4285,940.6 4256,912.4 4226,924.3 4197,903.6 4167,916.9 4138,936.1"/>
<polyline fill="none" stroke="#0000ff" stroke-width="1.2" stroke-dasharray="5,3" marker-start="url(#sb)" marker-mid="url(#sb)" marker-end="url(#sb)" points="4138,928.7 4167,890.2 4197,900.6 4226,894.7 4256,894.7 4285,934.6 4314,945 4344,945 4373,945"/>
<polyline fill="none" stroke="#ff0000" stroke-width="1.2" stroke-dasharray="5,3" marker-start="url(#sr)" marker-mid="url(#sr)" marker-end="url(#sr)" points="4138,936.1 4167,916.9 4197,903.6 4226,924.3 4256,912.4 4285,940.6 4314,945 4344,945 4373,945"/>
<polyline clip-path="url(#c2)" fill="none" stroke="#000" stroke-width="1.2" marker-start="url(#sk)" marker-mid="url(#sk)" marker-end="url(#sk)" points="4138,938.5 4167,745 4197,945 4226,919.8 4256,911 4285,933.2 4314,882 4344,945 4373,913.3"/>
<!-- SE -->
<polygon fill="#ffff00" points="3714,1218.9 3743,1186.6 3773,1235.1 3802,1226.3 3832,1180.7 3861,1251.2 3890,1263 3920,1263 3949,1263 3920,1263 3890,1263 3861,1254.2 3832,1204.2 3802,1248.3 3773,1254.2 3743,1214.5 3714,1243.9"/>
<polyline fill="none" stroke="#0000ff" stroke-width="1.2" stroke-dasharray="5,3" marker-start="url(#sb)" marker-mid="url(#sb)" marker-end="url(#sb)" points="3714,1218.9 3743,1186.6 3773,1235.1 3802,1226.3 3832,1180.7 3861,1251.2 3890,1263 3920,1263 3949,1263"/>
<polyline fill="none" stroke="#ff0000" stroke-width="1.2" stroke-dasharray="5,3" marker-start="url(#sr)" marker-mid="url(#sr)" marker-end="url(#sr)" points="3714,1243.9 3743,1214.5 3773,1254.2 3802,1248.3 3832,1204.2 3861,1254.2 3890,1263 3920,1263 3949,1263"/>
<polyline clip-path="url(#c3)" fill="none" stroke="#000" stroke-width="1.2" marker-start="url(#sk)" marker-mid="url(#sk)" marker-end="url(#sk)" points="3714,1256.5 3743,1064 3773,1263 3802,1238 3832,1229.2 3861,1251.2 3890,1200.4 3920,1263 3949,1231.5"/>
<!-- IT -->
<polygon fill="#ffff00" points="4138,1239.5 4167,1210.1 4197,1236.5 4226,1163 4256,1227.7 4285,1251.2 4314,1263 4344,1263 4373,1263 4344,1263 4314,1263 4285,1257.1 4256,1245.4 4226,1182.2 4197,1248.3 4167,1230.7 4138,1255.7"/>
<polyline fill="none" stroke="#0000ff" stroke-width="1.2" stroke-dasharray="5,3" marker-start="url(#sb)" marker-mid="url(#sb)" marker-end="url(#sb)" points="4138,1239.5 4167,1210.1 4197,1236.5 4226,1163 4256,1227.7 4285,1251.2 4314,1263 4344,1263 4373,1263"/>
<polyline fill="none" stroke="#ff0000" stroke-width="1.2" stroke-dasharray="5,3" marker-start="url(#sr)" marker-mid="url(#sr)" marker-end="url(#sr)" points="4138,1255.7 4167,1230.7 4197,1248.3 4226,1182.2 4256,1245.4 4285,1257.1 4314,1263 4344,1263 4373,1263"/>
<polyline clip-path="url(#c4)" fill="none" stroke="#000" stroke-width="1.2" marker-start="url(#sk)" marker-mid="url(#sk)" marker-end="url(#sk)" points="4138,1256.5 4167,1064 4197,1263 4226,1238 4256,1229.2 4285,1251.2 4314,1200.4 4344,1263 4373,1231.5"/>
<!-- small y labels -->
<g font-size="10" text-anchor="end">
<text x="3681" y="800">50 %</text><text x="3681" y="830">40 %</text><text x="3681" y="859">30 %</text><text x="3681" y="889">20 %</text><text x="3681" y="918">10 %</text>
<text x="4106" y="800">50 %</text><text x="4106" y="830">40 %</text><text x="4106" y="859">30 %</text><text x="4106" y="889">20 %</text><text x="4106" y="918">10 %</text>
<text x="3681" y="1119">50 %</text><text x="3681" y="1148">40 %</text><text x="3681" y="1178">30 %</text><text x="3681" y="1207">20 %</text><text x="3681" y="1237">10 %</text>
<text x="4106" y="1119">50 %</text><text x="4106" y="1148">40 %</text><text x="4106" y="1178">30 %</text><text x="4106" y="1207">20 %</text><text x="4106" y="1237">10 %</text>
</g>
<!-- small x labels -->
<g font-size="12" text-anchor="end">
<text transform="translate(3711,950) rotate(-90)">Hardware y</text><text transform="translate(3723,950) rotate(-90)">Arquitectura</text>
<text transform="translate(3740,950) rotate(-90)">Ciencia de la</text><text transform="translate(3752,950) rotate(-90)">Computación</text>
<text transform="translate(3770,950) rotate(-90)">Sistemas de</text><text transform="translate(3782,950) rotate(-90)">Información</text>
<text transform="translate(3799,950) rotate(-90)">Tecnología</text><text transform="translate(3811,950) rotate(-90)">de Información</text>
<text transform="translate(3829,950) rotate(-90)">Ingeniería</text><text transform="translate(3841,950) rotate(-90)">de Software</text>
<text transform="translate(3858,950) rotate(-90)">Matemática para</text><text transform="translate(3870,950) rotate(-90)">Computación</text>
<text transform="translate(3887,950) rotate(-90)">Ciencias</text><text transform="translate(3899,950) rotate(-90)">Básicas</text>
<text transform="translate(3917,950) rotate(-90)">Contenido</text><text transform="translate(3929,950) rotate(-90)">Empresarial</text>
<text transform="translate(3946,950) rotate(-90)">Formación</text><text transform="translate(3958,950) rotate(-90)">General</text>

<text transform="translate(4135,950) rotate(-90)">Hardware y</text><text transform="translate(4147,950) rotate(-90)">Arquitectura</text>
<text transform="translate(4164,950) rotate(-90)">Ciencia de la</text><text transform="translate(4176,950) rotate(-90)">Computación</text>
<text transform="translate(4194,950) rotate(-90)">Sistemas de</text><text transform="translate(4206,950) rotate(-90)">Información</text>
<text transform="translate(4223,950) rotate(-90)">Tecnología</text><text transform="translate(4235,950) rotate(-90)">de Información</text>
<text transform="translate(4253,950) rotate(-90)">Ingeniería</text><text transform="translate(4265,950) rotate(-90)">de Software</text>
<text transform="translate(4282,950) rotate(-90)">Matemática para</text><text transform="translate(4294,950) rotate(-90)">Computación</text>
<text transform="translate(4311,950) rotate(-90)">Ciencias</text><text transform="translate(4323,950) rotate(-90)">Básicas</text>
<text transform="translate(4341,950) rotate(-90)">Contenido</text><text transform="translate(4353,950) rotate(-90)">Empresarial</text>
<text transform="translate(4370,950) rotate(-90)">Formación</text><text transform="translate(4382,950) rotate(-90)">General</text>

<text transform="translate(3711,1268) rotate(-90)">Hardware y</text><text transform="translate(3723,1268) rotate(-90)">Arquitectura</text>
<text transform="translate(3740,1268) rotate(-90)">Ciencia de la</text><text transform="translate(3752,1268) rotate(-90)">Computación</text>
<text transform="translate(3770,1268) rotate(-90)">Sistemas de</text><text transform="translate(3782,1268) rotate(-90)">Información</text>
<text transform="translate(3799,1268) rotate(-90)">Tecnología</text><text transform="translate(3811,1268) rotate(-90)">de Información</text>
<text transform="translate(3829,1268) rotate(-90)">Ingeniería</text><text transform="translate(3841,1268) rotate(-90)">de Software</text>
<text transform="translate(3858,1268) rotate(-90)">Matemática para</text><text transform="translate(3870,1268) rotate(-90)">Computación</text>
<text transform="translate(3887,1268) rotate(-90)">Ciencias</text><text transform="translate(3899,1268) rotate(-90)">Básicas</text>
<text transform="translate(3917,1268) rotate(-90)">Contenido</text><text transform="translate(3929,1268) rotate(-90)">Empresarial</text>
<text transform="translate(3946,1268) rotate(-90)">Formación</text><text transform="translate(3958,1268) rotate(-90)">General</text>

<text transform="translate(4135,1268) rotate(-90)">Hardware y</text><text transform="translate(4147,1268) rotate(-90)">Arquitectura</text>
<text transform="translate(4164,1268) rotate(-90)">Ciencia de la</text><text transform="translate(4176,1268) rotate(-90)">Computación</text>
<text transform="translate(4194,1268) rotate(-90)">Sistemas de</text><text transform="translate(4206,1268) rotate(-90)">Información</text>
<text transform="translate(4223,1268) rotate(-90)">Tecnología</text><text transform="translate(4235,1268) rotate(-90)">de Información</text>
<text transform="translate(4253,1268) rotate(-90)">Ingeniería</text><text transform="translate(4265,1268) rotate(-90)">de Software</text>
<text transform="translate(4282,1268) rotate(-90)">Matemática para</text><text transform="translate(4294,1268) rotate(-90)">Computación</text>
<text transform="translate(4311,1268) rotate(-90)">Ciencias</text><text transform="translate(4323,1268) rotate(-90)">Básicas</text>
<text transform="translate(4341,1268) rotate(-90)">Contenido</text><text transform="translate(4353,1268) rotate(-90)">Empresarial</text>
<text transform="translate(4370,1268) rotate(-90)">Formación</text><text transform="translate(4382,1268) rotate(-90)">General</text>
</g>
<!-- small legends -->
<g fill="#fff" stroke="#000" stroke-width="1">
<rect x="3863" y="803" width="87" height="45"/><rect x="4288" y="803" width="87" height="45"/>
<rect x="3863" y="1122" width="87" height="45"/><rect x="4288" y="1122" width="87" height="45"/>
</g>
<g stroke-width="1.2">
<path d="M3867,811H3893M4292,811H4318M3867,1130H3893M4292,1130H4318" stroke="#0000ff" stroke-dasharray="5,3"/>
<path d="M3867,823H3893M4292,823H4318M3867,1142H3893M4292,1142H4318" stroke="#000"/>
<path d="M3867,835H3893M4292,835H4318M3867,1154H3893M4292,1154H4318" stroke="#ff0000" stroke-dasharray="5,3"/>
</g>
<g font-size="11">
<text x="3894" y="815">CE Max</text><text x="3894" y="827">CS-UNAM</text><text x="3894" y="839">CE Min</text>
<text x="4319" y="815">IS Max</text><text x="4319" y="827">CS-UNAM</text><text x="4319" y="839">IS Min</text>
<text x="3894" y="1134">SE Max</text><text x="3894" y="1146">CS-UNAM</text><text x="3894" y="1158">SE Min</text>
<text x="4319" y="1134">IT Max</text><text x="4319" y="1146">CS-UNAM</text><text x="4319" y="1158">IT Min</text>
</g>

<!-- Coding legend -->
<rect x="3598" y="1407" width="853" height="268" fill="#fff" stroke="#d5dce5" stroke-width="4"/>
<rect x="3628" y="1427" width="792" height="224" fill="none" stroke="#000" stroke-width="1.5"/>
<g fill="none" stroke="#000" stroke-width="1.3" marker-end="url(#ar)">
<path d="M3737,1439H3689V1531"/>
<path d="M3737,1479H3713V1531"/>
<path d="M3731,1621V1557"/>
</g>
<text x="3637" y="1557" font-size="30" textLength="100" lengthAdjust="spacingAndGlyphs">C S 2 7 1</text>
<text x="3748" y="1441" font-size="14">Nivel</text>
<text x="3748" y="1457" font-size="12" textLength="526" lengthAdjust="spacingAndGlyphs">1xx = «Introductory», 2xx = «Intermediate», 3xx = «Advanced», 4xx = «CaptoneProject»</text>
<text x="3748" y="1481" font-size="14">Tema (segundo dígito/letra)</text>
<g font-size="12.5">
<text x="3748" y="1496">1 = Algoritmos y Complejidad (AL)</text>
<text x="3748" y="1511">2 = Arquitectura y Organización (AR)</text>
<text x="3748" y="1526">3 = Redes y Comunicaciones (NC)</text>
<text x="3748" y="1541">4 = Lenguajes de Programación (PL)</text>
<text x="3748" y="1555">5 = Gráficos y Visualización (GV)</text>
<text x="3748" y="1570">6 = Inteligencia Artificial (IA)</text>
<text x="3748" y="1585">7 = Gestión de Información (IM)</text>
<text x="3748" y="1600">8 = Asuntos Sociales y Práctica Profesional (SP)</text>
<text x="3748" y="1615">9 = Ingeniería de Software (SE)</text>
<text x="4035" y="1496">B = Desarrollo Basados en Plataforma (PBD)</text>
<text x="4035" y="1511">C = Ciencia Computacional (CN)</text>
<text x="4035" y="1526">D = Estructura Discretas (DS)</text>
<text x="4035" y="1541">F = Fundamentos del Desarrollo de Software (SDF)</text>
<text x="4035" y="1555">H = Interacción Humano Computador (HCI)</text>
<text x="4035" y="1570">I = Aseguramiento y Seguridad de la Información (IAS)</text>
<text x="4035" y="1585">P = Computación Paralela y Distribuída (PD)</text>
<text x="4035" y="1600">S = Sistemas Operativos (OS)</text>
<text x="4035" y="1615">U = Fundamentos de Sistemas (SF)</text>
</g>
<text x="3729" y="1636" font-size="14">Identificador numérico en el área</text>
<text x="4026" y="1697" font-size="22" font-weight="bold" fill="#fff" text-anchor="middle" textLength="483" lengthAdjust="spacingAndGlyphs">Codificación de cursos del área de Computación</text>

<!-- Venn -->
<rect x="3598" y="1705" width="853" height="730" fill="#fff" stroke="#d5dce5" stroke-width="4"/>
<ellipse cx="4103" cy="2042" rx="317" ry="316" fill="none" stroke="#000" stroke-width="3"/>
<g fill="none" stroke-width="2.5" stroke-dasharray="7,5">
<ellipse cx="3983" cy="2140" rx="99" ry="158" stroke="#0000ff"/>
<ellipse cx="4122" cy="2063" rx="232" ry="138" transform="rotate(55 4122 2063)" stroke="#bb55dd"/>
<circle cx="4102" cy="2042" r="119" stroke="#ffa500"/>
<ellipse cx="4193" cy="2122" rx="185" ry="85" transform="rotate(-55 4193 2122)" stroke="#33cc33"/>
<ellipse cx="4265" cy="2022" rx="110" ry="179" stroke="#0000ff" stroke-width="3"/>
<polygon points="4193,2101 4215,2057 4270,2057 4291,2101 4270,2146 4215,2146" stroke="#ff4500" stroke-width="3"/>
</g>
<rect x="4158" y="2153" width="42" height="24" rx="6" fill="#888"/>
<rect x="4155" y="2150" width="42" height="24" rx="6" fill="#ffee22" stroke="#000" stroke-width="2"/>
<text x="4176" y="2170" font-size="22" text-anchor="middle">CS</text>
<g font-weight="bold" text-anchor="middle">
<text x="4100" y="1768" font-size="14" fill="#aa0000">Computación</text>
<text x="3705" y="1789" font-size="13">Actividad de Dominio</text>
<text x="3705" y="1807" font-size="13">Habilitada por</text>
<text x="3705" y="1825" font-size="13">Computación</text>
<text x="3705" y="2036" font-size="13">Tecnología</text>
<text x="3705" y="2054" font-size="13">Computacional</text>
<text x="3705" y="2273" font-size="13">Fundamentos</text>
<text x="3705" y="2291" font-size="13">Computacionales</text>
<text x="3942" y="2402" font-size="13">Hardware</text>
<text x="4100" y="2402" font-size="13">Software</text>
<text x="4259" y="2392" font-size="13">Necesidades</text>
<text x="4259" y="2410" font-size="13">Organizacionales</text>
<text x="4068" y="1894" font-size="10" fill="#bb55dd">Seguridad</text>
<text x="4263" y="1879" font-size="10" fill="#0000ff">Transformación Digital</text>
<text x="4263" y="1893" font-size="10" fill="#0000ff">e Inteligencia</text>
<text x="4260" y="1947" font-size="15">IS</text>
<text x="4093" y="1971" font-size="10" fill="#ffa500">Plataformas TI e</text>
<text x="4093" y="1985" font-size="10" fill="#ffa500">Infraestructura</text>
<text x="4169" y="2031" font-size="15">IT</text>
<text x="4150" y="2115" font-size="15">SE</text>
<text x="4139" y="2224" font-size="10" fill="#228822">Software</text>
<text x="3982" y="2243" font-size="10" fill="#0000ff">Hardware</text>
</g>
<text x="4023" y="1929" font-size="16" fill="#bb55dd" text-anchor="middle">CY</text>
<text x="4316" y="1977" font-size="16" fill="#0000ff" text-anchor="middle">DS</text>
<text x="4242" y="2107" font-size="16" fill="#ff4500" text-anchor="middle">AI</text>
<text x="4046" y="2167" font-size="16" fill="#0000ff" text-anchor="middle">CE</text>
<text x="4026" y="2460" font-size="22" font-weight="bold" fill="#fff" text-anchor="middle" textLength="433" lengthAdjust="spacingAndGlyphs">ACM/IEEE-CS Computing Curricula 2020</text>

<!-- Pie 1 -->
<rect x="3608" y="2476" width="419" height="321" fill="none" stroke="#dfe5ec" stroke-width="2"/>
<rect x="3604" y="2472" width="415" height="319" fill="#fff" stroke="#dfe5ec" stroke-width="4"/>
<g stroke="#000" stroke-width="2">
<path d="M3790,2621L3750.7,2734.4A120,120 0 1 1 3909.2,2606.8Z" fill="#0000ff"/>
<path d="M3790,2621L3909.2,2606.8A120,120 0 0 1 3910,2621Z" fill="#c0c0c0"/>
<path d="M3790,2621L3910,2621A120,120 0 0 1 3904.6,2656.7Z" fill="#f08080"/>
<path d="M3790,2621L3904.6,2656.7A120,120 0 0 1 3764.4,2738.2Z" fill="#00ff00"/>
<path d="M3790,2621L3764.4,2738.2A120,120 0 0 1 3750.7,2734.4Z" fill="#a020f0"/>
</g>
<g font-size="22">
<text x="3632" y="2508">CS (140)</text>
<text x="3717" y="2571">67.6 %</text>
<text x="3925" y="2617">CB (4)</text>
<text x="3925" y="2648">ID (10)</text>
<text x="3840" y="2622">1.9 %</text>
<text x="3840" y="2639">4.8 %</text>
<text x="3798" y="2690">23.6 %</text>
<text x="3747" y="2697">1.9 %</text>
<text x="3717" y="2768">AI (4)</text>
<text x="3846" y="2758">FG (49)</text>
</g>
<text x="3814" y="2820" font-size="24" fill="#fff" text-anchor="middle" textLength="177" lengthAdjust="spacingAndGlyphs">Créditos por área</text>

<!-- Pie 2 -->
<rect x="4032" y="2521" width="415" height="234" fill="none" stroke="#dfe5ec" stroke-width="2"/>
<rect x="4028" y="2517" width="411" height="232" fill="#fff" stroke="#dfe5ec" stroke-width="4"/>
<g stroke="#000" stroke-width="1.3">
<path d="M4237,2631L4179.1,2556.9A94,94 0 0 1 4331,2631Z" fill="#fff"/>
<path d="M4237,2631L4331,2631A94,94 0 0 1 4324,2666.7Z" fill="#c0c0c0"/>
<path d="M4237,2631L4324,2666.7A94,94 0 0 1 4206.2,2719.8Z" fill="#00ff00"/>
<path d="M4237,2631L4206.2,2719.8A94,94 0 0 1 4179.1,2556.9Z" fill="#ffff00"/>
</g>
<g font-size="12.5">
<text x="4259" y="2545">Introductorio (74)</text>
<text x="4245" y="2585">35.7 %</text>
<text x="4165" y="2646">33.8 %</text>
<text x="4278" y="2647">6.2 %</text>
<text x="4243" y="2688">24.1 %</text>
<text x="4056" y="2650">Intermedio (70)</text>
<text x="4345" y="2646">Proyecto final</text>
<text x="4341" y="2661">de carrera (13)</text>
<text x="4264" y="2725">Avanzado (50)</text>
</g>
<text x="4239" y="2773" font-size="24" fill="#fff" text-anchor="middle" textLength="182" lengthAdjust="spacingAndGlyphs">Créditos por nivel</text>

<!-- Area chart -->
<rect x="3622" y="2828" width="353" height="272" fill="none" stroke="#dfe5ec" stroke-width="2"/>
<rect x="3618" y="2824" width="350" height="270" fill="#fff" stroke="#dfe5ec" stroke-width="4"/>
<polygon fill="#ffff00" points="3682,3042 3682,2846.5 3711,2846.5 3740,2863.5 3768,2855 3797,2863.5 3826,2863.5 3855,2855 3884,2880.5 3912,2880.5 3941,2906 3941,3042"/>
<polygon fill="#ff0000" points="3682,3042 3682,2846.5 3711,2846.5 3740,2863.5 3768,2872 3797,2863.5 3826,2863.5 3855,2889 3884,2906 3912,2982.5 3941,2965.5 3941,3042"/>
<polygon fill="#c0c0c0" points="3682,3042 3682,2880.5 3711,2940 3740,2957 3768,2999.5 3797,3025 3826,3016.5 3855,3008 3884,3008 3912,3042 3941,3025 3941,3042"/>
<g stroke="#999" stroke-width="0.8" stroke-dasharray="1,3"><path d="M3660,2872H3941M3660,2914H3941M3660,2957H3941M3660,2999H3941"/></g>
<g font-size="8" text-anchor="end"><text x="3658" y="2875">20</text><text x="3658" y="2917">15</text><text x="3658" y="2960">10</text><text x="3658" y="3002">5</text></g>
<g font-size="8" text-anchor="end">
<text transform="translate(3685,3050) rotate(-45)">1er Sem</text>
<text transform="translate(3714,3050) rotate(-45)">2do Sem</text>
<text transform="translate(3743,3050) rotate(-45)">3er Sem</text>
<text transform="translate(3771,3050) rotate(-45)">4to Sem</text>
<text transform="translate(3800,3050) rotate(-45)">5to Sem</text>
<text transform="translate(3829,3050) rotate(-45)">6to Sem</text>
<text transform="translate(3858,3050) rotate(-45)">7mo Sem</text>
<text transform="translate(3887,3050) rotate(-45)">8vo Sem</text>
<text transform="translate(3915,3050) rotate(-45)">9no Sem</text>
<text transform="translate(3944,3050) rotate(-45)">10mo Sem</text>
</g>
<text x="3796" y="3118" font-size="24" fill="#fff" text-anchor="middle" textLength="267" lengthAdjust="spacingAndGlyphs">Créditos por tipo de curso</text>

<!-- Table -->
<rect x="4012" y="2863" width="437" height="201" fill="none" stroke="#dfe5ec" stroke-width="2"/>
<rect x="4008" y="2859" width="433" height="199" fill="#fff" stroke="#dfe5ec" stroke-width="4"/>
<rect x="4127" y="2880" width="102" height="11" fill="#c0c0c0"/>
<rect x="4233" y="2880" width="65" height="11" fill="#ff0000"/>
<rect x="4302" y="2880" width="86" height="11" fill="#ffff00"/>
<g stroke="#777" stroke-width="0.7">
<path d="M4036,2879H4417M4036,2891H4417M4036,2903H4417M4036,2915.5H4417M4036,2927.5H4417M4036,2939.5H4417M4036,2952H4417M4036,2964H4417M4036,2976H4417M4036,2988.5H4417M4036,3000.5H4417M4036,3012.5H4417M4036,3025H4417M4036,3037H4417"/>
<path d="M4036,2879V3037M4124,2879V3037M4231,2879V3037M4300,2879V3037M4390,2879V3037M4417,2879V3037"/>
</g>
<g font-size="9.5" font-weight="bold" text-anchor="middle">
<text x="4177.5" y="2889">Estudios generales</text><text x="4265.5" y="2889">Específicos</text><text x="4345" y="2889">Especialización</text>
</g>
<g font-size="9.5">
<text x="4042" y="2900">Primer Sem</text><text x="4042" y="2912">Segundo Sem</text><text x="4042" y="2925">Tercer Sem</text><text x="4042" y="2937">Cuarto Sem</text><text x="4042" y="2949">Quinto Sem</text><text x="4042" y="2961">Sexto Sem</text><text x="4042" y="2973">Séptimo Sem</text><text x="4042" y="2985">Octavo Sem</text><text x="4042" y="2998">Noveno Sem</text><text x="4042" y="3010">Décimo Sem</text><text x="4042" y="3022" font-weight="bold">Total</text>
</g>
<g font-size="9.5" text-anchor="middle">
<text x="4177.5" y="2900">19</text><text x="4265.5" y="2900">4</text><text x="4403.5" y="2900">23</text>
<text x="4177.5" y="2912">12</text><text x="4265.5" y="2912">11</text><text x="4403.5" y="2912">23</text>
<text x="4177.5" y="2925">10</text><text x="4265.5" y="2925">11</text><text x="4403.5" y="2925">21</text>
<text x="4177.5" y="2937">5</text><text x="4265.5" y="2937">15</text><text x="4345" y="2937">2</text><text x="4403.5" y="2937">22</text>
<text x="4177.5" y="2949">2</text><text x="4265.5" y="2949">19</text><text x="4403.5" y="2949">21</text>
<text x="4177.5" y="2961">3</text><text x="4265.5" y="2961">18</text><text x="4403.5" y="2961">21</text>
<text x="4177.5" y="2973">4</text><text x="4265.5" y="2973">14</text><text x="4345" y="2973">4</text><text x="4403.5" y="2973">22</text>
<text x="4177.5" y="2985">4</text><text x="4265.5" y="2985">12</text><text x="4345" y="2985">3</text><text x="4403.5" y="2985">19</text>
<text x="4265.5" y="2998">7</text><text x="4345" y="2998">12</text><text x="4403.5" y="2998">19</text>
<text x="4177.5" y="3010">2</text><text x="4265.5" y="3010">7</text><text x="4345" y="3010">7</text><text x="4403.5" y="3010">16</text>
<text x="4177.5" y="3022">61</text><text x="4265.5" y="3022">118</text><text x="4345" y="3022">28</text><text x="4403.5" y="3022">207</text>
<text x="4177.5" y="3034">29.4 %</text><text x="4265.5" y="3034">57 %</text><text x="4345" y="3034">13.5 %</text>
</g>
<text x="4220" y="3084" font-size="24" fill="#fff" text-anchor="middle" textLength="327" lengthAdjust="spacingAndGlyphs">Distribución de cursos por áreas</text>
</svg>

<!-- COURSE BOXES -->
<div class="c h1 k" style="left:534px;top:422px"><div class="i">#472</div><div class="t">BEI101. Inglés I</div><div class="r"><span>Teoría:</span><span>Obligatorio</span></div><div class="r"><span>Práctica:4</span><span>2 CR</span></div><div class="r"><span>Laboratorio:</span><span>Pág</span></div></div>
<div class="c h1 k" style="left:534px;top:614px"><div class="i">#481</div><div class="t">BEI102. Inglés II</div><div class="r"><span>Teoría:</span><span>Obligatorio</span></div><div class="r"><span>Práctica:4</span><span>2 CR</span></div><div class="r"><span>Laboratorio:</span><span>Pág</span></div></div>
<div class="c h1 k" style="left:534px;top:817px"><div class="i">#490</div><div class="t">BEI201. Inglés III</div><div class="r"><span>Teoría:</span><span>Obligatorio</span></div><div class="r"><span>Práctica:4</span><span>2 CR</span></div><div class="r"><span>Laboratorio:</span><span>Pág</span></div></div>
<div class="c h1 k" style="left:534px;top:1022px"><div class="i">#498</div><div class="t">BEI202. Inglés IV</div><div class="r"><span>Teoría:</span><span>Electivo</span></div><div class="r"><span>Práctica:4</span><span>2 CR</span></div><div class="r"><span>Laboratorio:</span><span>Pág</span></div></div>
<div class="c h1 k" style="left:573px;top:1215px"><div class="i">#506</div><div class="t">BEI203. Inglés V</div><div class="r"><span>Teoría:</span><span>Electivo</span></div><div class="r"><span>Práctica:4</span><span>2 CR</span></div><div class="r"><span>Laboratorio:</span><span>Pág</span></div></div>
<div class="c h2" style="left:1318px;top:411px"><div class="i">#468</div><div class="t">CS111. Introducción<br>a la Programación</div><div class="r"><span>Teoría:2</span><span>Obligatorio</span></div><div class="r"><span>Práctica:</span><span>4 CR</span></div><div class="r"><span>Laboratorio:4</span><span>Pág</span></div></div>
<div class="c h1" style="left:1051px;top:615px"><div class="i">#478</div><div class="t">CS112. POO I</div><div class="r"><span>Teoría:2</span><span>Obligatorio</span></div><div class="r"><span>Práctica:</span><span>4 CR</span></div><div class="r"><span>Laboratorio:4</span><span>Pág</span></div></div>
<div class="c h2" style="left:1270px;top:602px"><div class="i">#477</div><div class="t">CS1D1. Estructuras<br>Discretas</div><div class="r"><span>Teoría:2</span><span>Obligatorio</span></div><div class="r"><span>Práctica:4</span><span>4 CR</span></div><div class="r"><span>Laboratorio:</span><span>Pág</span></div></div>
<div class="c h1 p" style="left:1445px;top:817px"><div class="i">#486</div><div class="t">AI161. IA Aplicada</div><div class="r"><span>Teoría:2</span><span>Obligatorio</span></div><div class="r"><span>Práctica:</span><span>4 CR</span></div><div class="r"><span>Laboratorio:4</span><span>Pág</span></div></div>
<div class="c h1" style="left:832px;top:817px"><div class="i">#484</div><div class="t">CS113. POO II</div><div class="r"><span>Teoría:2</span><span>Obligatorio</span></div><div class="r"><span>Práctica:2</span><span>4 CR</span></div><div class="r"><span>Laboratorio:2</span><span>Pág</span></div></div>
<div class="c h3" style="left:1049px;top:794px"><div class="i">#485</div><div class="t">CS2B1. Desarrollo<br>Basado en<br>Plataformas</div><div class="r"><span>Teoría:1</span><span>Obligatorio</span></div><div class="r"><span>Práctica:2</span><span>3 CR</span></div><div class="r"><span>Laboratorio:2</span><span>Pág</span></div></div>
<div class="c h2" style="left:762px;top:1010px"><div class="i">#495</div><div class="t">CS210. Algoritmos y<br>Estructuras de Datos</div><div class="r"><span>Teoría:2</span><span>Obligatorio</span></div><div class="r"><span>Práctica:2</span><span>4 CR</span></div><div class="r"><span>Laboratorio:2</span><span>Pág</span></div></div>
<div class="c h2" style="left:979px;top:1010px"><div class="i">#492</div><div class="t">CS211. Teoría de la<br>Computación</div><div class="r"><span>Teoría:2</span><span>Obligatorio</span></div><div class="r"><span>Práctica:2</span><span>4 CR</span></div><div class="r"><span>Laboratorio:2</span><span>Pág</span></div></div>
<div class="c h1" style="left:1260px;top:1022px"><div class="i">#494</div><div class="t">CS271. BD I</div><div class="r"><span>Teoría:2</span><span>Obligatorio</span></div><div class="r"><span>Práctica:</span><span>4 CR</span></div><div class="r"><span>Laboratorio:4</span><span>Pág</span></div></div>
<div class="c h2" style="left:1510px;top:1010px"><div class="i">#493</div><div class="t">CS221. Arquitectura<br>de Computadores</div><div class="r"><span>Teoría:2</span><span>Obligatorio</span></div><div class="r"><span>Práctica:</span><span>3 CR</span></div><div class="r"><span>Laboratorio:2</span><span>Pág</span></div></div>
<div class="c h1" style="left:790px;top:1215px"><div class="i">#502</div><div class="t">CS212. ADA</div><div class="r"><span>Teoría:2</span><span>Obligatorio</span></div><div class="r"><span>Práctica:2</span><span>4 CR</span></div><div class="r"><span>Laboratorio:2</span><span>Pág</span></div></div>
<div class="c h2" style="left:1110px;top:1202px"><div class="i">#504</div><div class="t">CS291. Ingeniería de<br>Software I</div><div class="r"><span>Teoría:2</span><span>Obligatorio</span></div><div class="r"><span>Práctica:2</span><span>4 CR</span></div><div class="r"><span>Laboratorio:2</span><span>Pág</span></div></div>
<div class="c h1" style="left:1327px;top:1215px"><div class="i">#503</div><div class="t">CS272. BD II</div><div class="r"><span>Teoría:1</span><span>Obligatorio</span></div><div class="r"><span>Práctica:2</span><span>3 CR</span></div><div class="r"><span>Laboratorio:2</span><span>Pág</span></div></div>
<div class="c h2" style="left:1544px;top:1202px"><div class="i">#501</div><div class="t">CS2S1. Sistemas<br>Operativos</div><div class="r"><span>Teoría:2</span><span>Obligatorio</span></div><div class="r"><span>Práctica:2</span><span>4 CR</span></div><div class="r"><span>Laboratorio:2</span><span>Pág</span></div></div>
<div class="c h2" style="left:461px;top:1377px"><div class="i">#508</div><div class="t">CS312. Estructuras<br>de Datos Avanzadas</div><div class="r"><span>Teoría:2</span><span>Obligatorio</span></div><div class="r"><span>Práctica:2</span><span>4 CR</span></div><div class="r"><span>Laboratorio:2</span><span>Pág</span></div></div>
<div class="c h2" style="left:678px;top:1377px"><div class="i">#509</div><div class="t">CS311. Programación<br>Competitiva</div><div class="r"><span>Teoría:2</span><span>Obligatorio</span></div><div class="r"><span>Práctica:</span><span>3 CR</span></div><div class="r"><span>Laboratorio:2</span><span>Pág</span></div></div>
<div class="c h1" style="left:961px;top:1388px"><div class="i">#511</div><div class="t">CS342. Compiladores</div><div class="r"><span>Teoría:2</span><span>Obligatorio</span></div><div class="r"><span>Práctica:2</span><span>4 CR</span></div><div class="r"><span>Laboratorio:2</span><span>Pág</span></div></div>
<div class="c h2" style="left:1544px;top:1377px"><div class="i">#510</div><div class="t">CS231. Redes y<br>Comunicación</div><div class="r"><span>Teoría:1</span><span>Obligatorio</span></div><div class="r"><span>Práctica:2</span><span>3 CR</span></div><div class="r"><span>Laboratorio:2</span><span>Pág</span></div></div>
<div class="c h2" style="left:940px;top:1568px"><div class="i">#516</div><div class="t">CS2H1. Experiencia<br>de Usuario (UX)</div><div class="r"><span>Teoría:2</span><span>Obligatorio</span></div><div class="r"><span>Práctica:</span><span>4 CR</span></div><div class="r"><span>Laboratorio:4</span><span>Pág</span></div></div>
<div class="c h2" style="left:1157px;top:1568px"><div class="i">#517</div><div class="t">CS292. Ingeniería de<br>Software II</div><div class="r"><span>Teoría:2</span><span>Obligatorio</span></div><div class="r"><span>Práctica:2</span><span>4 CR</span></div><div class="r"><span>Laboratorio:2</span><span>Pág</span></div></div>
<div class="c h3" style="left:832px;top:1743px"><div class="i">#528</div><div class="t">CS3P1. Computación<br>Paralela y<br>Distribuida</div><div class="r"><span>Teoría:2</span><span>Obligatorio</span></div><div class="r"><span>Práctica:2</span><span>4 CR</span></div><div class="r"><span>Laboratorio:2</span><span>Pág</span></div></div>
<div class="c h2" style="left:1071px;top:1756px"><div class="i">#523</div><div class="t">CS391. Ingeniería de<br>Software III</div><div class="r"><span>Teoría:2</span><span>Electivo</span></div><div class="r"><span>Práctica:2</span><span>3 CR</span></div><div class="r"><span>Laboratorio:</span><span>Pág</span></div></div>
<div class="c h2" style="left:1288px;top:1756px"><div class="i">#524</div><div class="t">CS393. Sistemas de<br>Información</div><div class="r"><span>Teoría:2</span><span>Electivo</span></div><div class="r"><span>Práctica:</span><span>3 CR</span></div><div class="r"><span>Laboratorio:2</span><span>Pág</span></div></div>
<div class="c h2 p" style="left:1505px;top:1756px"><div class="i">#525</div><div class="t">AI268. Visión<br>Computacional</div><div class="r"><span>Teoría:2</span><span>Electivo</span></div><div class="r"><span>Práctica:</span><span>3 CR</span></div><div class="r"><span>Laboratorio:2</span><span>Pág</span></div></div>
<div class="c h2" style="left:1723px;top:1756px"><div class="i">#526</div><div class="t">CS3I1. Seguridad en<br>Computación</div><div class="r"><span>Teoría:1</span><span>Obligatorio</span></div><div class="r"><span>Práctica:2</span><span>3 CR</span></div><div class="r"><span>Laboratorio:2</span><span>Pág</span></div></div>
<div class="c h1" style="left:788px;top:1995px"><div class="i">#535</div><div class="t">CS370. Big Data</div><div class="r"><span>Teoría:1</span><span>Obligatorio</span></div><div class="r"><span>Práctica:2</span><span>3 CR</span></div><div class="r"><span>Laboratorio:2</span><span>Pág</span></div></div>
<div class="c h2" style="left:1005px;top:1984px"><div class="i">#536</div><div class="t">CS3P3. Internet de<br>las Cosas</div><div class="r"><span>Teoría:1</span><span>Electivo</span></div><div class="r"><span>Práctica:</span><span>3 CR</span></div><div class="r"><span>Laboratorio:4</span><span>Pág</span></div></div>
<div class="c h3" style="left:1223px;top:1972px"><div class="i">#538</div><div class="t">CS392. Tópicos en<br>Ingeniería de<br>Software</div><div class="r"><span>Teoría:2</span><span>Electivo</span></div><div class="r"><span>Práctica:</span><span>3 CR</span></div><div class="r"><span>Laboratorio:2</span><span>Pág</span></div></div>
<div class="c h1 p" style="left:1440px;top:1995px"><div class="i">#540</div><div class="t">AI369. Robótica</div><div class="r"><span>Teoría:2</span><span>Electivo</span></div><div class="r"><span>Práctica:</span><span>3 CR</span></div><div class="r"><span>Laboratorio:2</span><span>Pág</span></div></div>
<div class="c h2" style="left:1657px;top:1984px"><div class="i">#534</div><div class="t">CS353. Computación<br>Cuántica</div><div class="r"><span>Teoría:2</span><span>Electivo</span></div><div class="r"><span>Práctica:</span><span>3 CR</span></div><div class="r"><span>Laboratorio:2</span><span>Pág</span></div></div>
<div class="c h2" style="left:788px;top:2187px"><div class="i">#545</div><div class="t">CS3P2. Cloud<br>Computing</div><div class="r"><span>Teoría:1</span><span>Obligatorio</span></div><div class="r"><span>Práctica:2</span><span>3 CR</span></div><div class="r"><span>Laboratorio:2</span><span>Pág</span></div></div>
<div class="c h2 g" style="left:2087px;top:411px"><div class="i">#470</div><div class="t">BMA102. Cálculo<br>Diferencial</div><div class="r"><span>Teoría:4</span><span>Obligatorio</span></div><div class="r"><span>Práctica:2</span><span>5 CR</span></div><div class="r"><span>Laboratorio:</span><span>Pág</span></div></div>
<div class="c h2 g" style="left:2305px;top:411px"><div class="i">#469</div><div class="t">BMA101. Algebra<br>Lineal</div><div class="r"><span>Teoría:3</span><span>Obligatorio</span></div><div class="r"><span>Práctica:2</span><span>4 CR</span></div><div class="r"><span>Laboratorio:</span><span>Pág</span></div></div>
<div class="c h1 g" style="left:2521px;top:422px"><div class="i">#471</div><div class="t">BCH101. Química I</div><div class="r"><span>Teoría:4</span><span>Obligatorio</span></div><div class="r"><span>Práctica:</span><span>5 CR</span></div><div class="r"><span>Laboratorio:2</span><span>Pág</span></div></div>
<div class="c h2 v" style="left:2737px;top:411px"><div class="i">#473</div><div class="t">FG001. Electivo<br>Formación General</div><div class="r"><span>Teoría:2</span><span>Obligatorio</span></div><div class="r"><span>Práctica:2</span><span>3 CR</span></div><div class="r"><span>Laboratorio:</span><span>Pág</span></div></div>
<div class="c h2 g" style="left:1913px;top:602px"><div class="i">#479</div><div class="t">BMA103. Cálculo<br>Integral</div><div class="r"><span>Teoría:4</span><span>Obligatorio</span></div><div class="r"><span>Práctica:2</span><span>5 CR</span></div><div class="r"><span>Laboratorio:</span><span>Pág</span></div></div>
<div class="c h3" style="left:2485px;top:590px"><div class="i">#476</div><div class="t">CS100. Introducción<br>a la Ciencia de la<br>Computación</div><div class="r"><span>Teoría:2</span><span>Obligatorio</span></div><div class="r"><span>Práctica:2</span><span>3 CR</span></div><div class="r"><span>Laboratorio:</span><span>Pág</span></div></div>
<div class="c h1 g" style="left:2702px;top:614px"><div class="i">#480</div><div class="t">BFI101. Física I</div><div class="r"><span>Teoría:4</span><span>Obligatorio</span></div><div class="r"><span>Práctica:</span><span>5 CR</span></div><div class="r"><span>Laboratorio:4</span><span>Pág</span></div></div>
<div class="c h2 g" style="left:2087px;top:806px"><div class="i">#488</div><div class="t">ST251. Estadística y<br>Probabilidades</div><div class="r"><span>Teoría:2</span><span>Obligatorio</span></div><div class="r"><span>Práctica:2</span><span>3 CR</span></div><div class="r"><span>Laboratorio:</span><span>Pág</span></div></div>
<div class="c h3 g" style="left:2305px;top:794px"><div class="i">#487</div><div class="t">BMA104. Cálculo<br>Diferencial e<br>Integral Avanzado</div><div class="r"><span>Teoría:4</span><span>Obligatorio</span></div><div class="r"><span>Práctica:2</span><span>5 CR</span></div><div class="r"><span>Laboratorio:</span><span>Pág</span></div></div>
<div class="c h2 g" style="left:1880px;top:1010px"><div class="i">#497</div><div class="t">MA202. Métodos<br>Numéricos</div><div class="r"><span>Teoría:2</span><span>Obligatorio</span></div><div class="r"><span>Práctica:2</span><span>3 CR</span></div><div class="r"><span>Laboratorio:</span><span>Pág</span></div></div>
<div class="c h2" style="left:2485px;top:1010px"><div class="i">#496</div><div class="t">CS401. Metodología<br>de la Investigación</div><div class="r"><span>Teoría:1</span><span>Obligatorio</span></div><div class="r"><span>Práctica:2</span><span>2 CR</span></div><div class="r"><span>Laboratorio:</span><span>Pág</span></div></div>
<div class="c h2" style="left:2088px;top:1202px"><div class="i">#505</div><div class="t">CS261. Inteligencia<br>Artificial</div><div class="r"><span>Teoría:2</span><span>Obligatorio</span></div><div class="r"><span>Práctica:2</span><span>4 CR</span></div><div class="r"><span>Laboratorio:2</span><span>Pág</span></div></div>
<div class="c h3 p" style="left:2091px;top:1365px"><div class="i">#512</div><div class="t">AI263. Introducción<br>al Aprendizaje de<br>Máquina</div><div class="r"><span>Teoría:2</span><span>Obligatorio</span></div><div class="r"><span>Práctica:</span><span>4 CR</span></div><div class="r"><span>Laboratorio:4</span><span>Pág</span></div></div>
<div class="c h2 g" style="left:2702px;top:1377px"><div class="i">#514</div><div class="t">FI201. Física<br>Computacional</div><div class="r"><span>Teoría:2</span><span>Obligatorio</span></div><div class="r"><span>Práctica:</span><span>3 CR</span></div><div class="r"><span>Laboratorio:2</span><span>Pág</span></div></div>
<div class="c h2" style="left:1874px;top:1568px"><div class="i">#518</div><div class="t">CS251. Computación<br>Gráfica</div><div class="r"><span>Teoría:2</span><span>Obligatorio</span></div><div class="r"><span>Práctica:</span><span>4 CR</span></div><div class="r"><span>Laboratorio:4</span><span>Pág</span></div></div>
<div class="c h2 p" style="left:2091px;top:1568px"><div class="i">#519</div><div class="t">AI264. Aprendizaje<br>Profundo</div><div class="r"><span>Teoría:2</span><span>Obligatorio</span></div><div class="r"><span>Práctica:</span><span>4 CR</span></div><div class="r"><span>Laboratorio:4</span><span>Pág</span></div></div>
<div class="c h1 g" style="left:2702px;top:1580px"><div class="i">#521</div><div class="t">BB1101. Biología</div><div class="r"><span>Teoría:2</span><span>Obligatorio</span></div><div class="r"><span>Práctica:2</span><span>4 CR</span></div><div class="r"><span>Laboratorio:2</span><span>Pág</span></div></div>
<div class="c h2 v" style="left:2919px;top:1568px"><div class="i">#520</div><div class="t">FG211. Ética<br>Profesional</div><div class="r"><span>Teoría:1</span><span>Obligatorio</span></div><div class="r"><span>Práctica:2</span><span>2 CR</span></div><div class="r"><span>Laboratorio:</span><span>Pág</span></div></div>
<div class="c h2" style="left:2485px;top:1756px"><div class="i">#769</div><div class="t">CS402. Proyecto de<br>tesis 1</div><div class="r"><span>Teoría:1</span><span>Obligatorio</span></div><div class="r"><span>Práctica:</span><span>3 CR</span></div><div class="r"><span>Laboratorio:4</span><span>Pág</span></div></div>
<div class="c h2" style="left:2832px;top:1756px"><div class="i">#529</div><div class="t">CS281. Computación<br>en la Sociedad</div><div class="r"><span>Teoría:2</span><span>Obligatorio</span></div><div class="r"><span>Práctica:</span><span>2 CR</span></div><div class="r"><span>Laboratorio:</span><span>Pág</span></div></div>
<div class="c h1 v" style="left:3050px;top:1768px"><div class="i">#531</div><div class="t">FG106. Teatro</div><div class="r"><span>Teoría:1</span><span>Obligatorio</span></div><div class="r"><span>Práctica:2</span><span>2 CR</span></div><div class="r"><span>Laboratorio:</span><span>Pág</span></div></div>
<div class="c h2 v" style="left:3266px;top:1756px"><div class="i">#530</div><div class="t">EX301. Actividades<br>Extracurriculares</div><div class="r"><span>Teoría:1</span><span>Obligatorio</span></div><div class="r"><span>Práctica:2</span><span>2 CR</span></div><div class="r"><span>Laboratorio:</span><span>Pág</span></div></div>
<div class="c h2" style="left:1874px;top:1984px"><div class="i">#537</div><div class="t">CS351. Tópicos en<br>Computación Gráfica</div><div class="r"><span>Teoría:2</span><span>Electivo</span></div><div class="r"><span>Práctica:</span><span>3 CR</span></div><div class="r"><span>Laboratorio:2</span><span>Pág</span></div></div>
<div class="c h3 p" style="left:2136px;top:1972px"><div class="i">#541</div><div class="t">AI365. Modelos<br>Generativos<br>Avanzados en IA</div><div class="r"><span>Teoría:2</span><span>Obligatorio</span></div><div class="r"><span>Práctica:</span><span>4 CR</span></div><div class="r"><span>Laboratorio:4</span><span>Pág</span></div></div>
<div class="c h2" style="left:2485px;top:1984px"><div class="i">#539</div><div class="t">CS403. Proyecto de<br>tesis 2</div><div class="r"><span>Teoría:1</span><span>Obligatorio</span></div><div class="r"><span>Práctica:</span><span>3 CR</span></div><div class="r"><span>Laboratorio:4</span><span>Pág</span></div></div>
<div class="c h2 g" style="left:2702px;top:1984px"><div class="i">#542</div><div class="t">CB309.<br>Bioinformática</div><div class="r"><span>Teoría:2</span><span>Obligatorio</span></div><div class="r"><span>Práctica:4</span><span>4 CR</span></div><div class="r"><span>Laboratorio:</span><span>Pág</span></div></div>
<div class="c h2" style="left:3180px;top:1984px"><div class="i">#533</div><div class="t">CS400. Prácticas<br>Pre-profesionales</div><div class="r"><span>Teoría:1</span><span>Obligatorio</span></div><div class="r"><span>Práctica:2</span><span>2 CR</span></div><div class="r"><span>Laboratorio:</span><span>Pág</span></div></div>
<div class="c h2 p" style="left:2005px;top:2187px"><div class="i">#546</div><div class="t">AI368. Computación<br>Evolutiva</div><div class="r"><span>Teoría:2</span><span>Obligatorio</span></div><div class="r"><span>Práctica:2</span><span>4 CR</span></div><div class="r"><span>Laboratorio:2</span><span>Pág</span></div></div>
<div class="c h3 p" style="left:2267px;top:2175px"><div class="i">#547</div><div class="t">AI367. Tópicos en<br>Inteligencia<br>Artificial</div><div class="r"><span>Teoría:2</span><span>Obligatorio</span></div><div class="r"><span>Práctica:2</span><span>4 CR</span></div><div class="r"><span>Laboratorio:2</span><span>Pág</span></div></div>
<div class="c h2" style="left:2485px;top:2187px"><div class="i">#544</div><div class="t">CS404. Taller de<br>Investigación</div><div class="r"><span>Teoría:1</span><span>Obligatorio</span></div><div class="r"><span>Práctica:</span><span>3 CR</span></div><div class="r"><span>Laboratorio:4</span><span>Pág</span></div></div>
<div class="c h2 v" style="left:3050px;top:2187px"><div class="i">#548</div><div class="t">FG350. Liderazgo y<br>Desempeño</div><div class="r"><span>Teoría:2</span><span>Obligatorio</span></div><div class="r"><span>Práctica:</span><span>2 CR</span></div><div class="r"><span>Laboratorio:</span><span>Pág</span></div></div>
</body></html>
